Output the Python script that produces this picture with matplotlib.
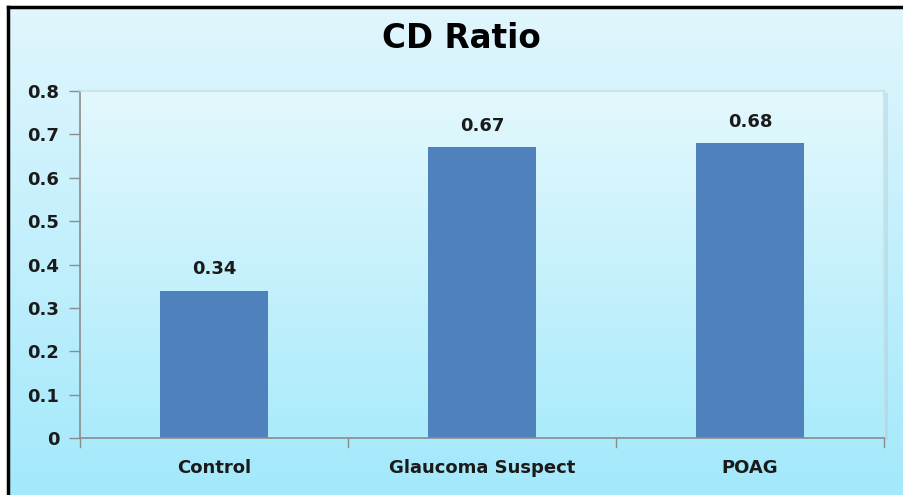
import numpy as np
import matplotlib
matplotlib.use("Agg")
import matplotlib.pyplot as plt
from matplotlib.colors import LinearSegmentedColormap
from matplotlib.patches import Rectangle
from matplotlib.lines import Line2D

plt.rcParams['font.family'] = ['DejaVu Sans']

categories = ["Control", "Glaucoma Suspect", "POAG"]
values = [0.34, 0.67, 0.68]
yticks = [0, 0.1, 0.2, 0.3, 0.4, 0.5, 0.6, 0.7, 0.8]
title = "CD Ratio"

W, H = 904, 495
fig = plt.figure(figsize=(W / 100, H / 100), dpi=100)
fig.patch.set_facecolor("white")

# figure background gradient (chart area inside the black frame)
bg = fig.add_axes([9 / W, 0, 1 - 9 / W, 1 - 7 / H], zorder=-10)
bg_cmap = LinearSegmentedColormap.from_list("bg", ["#e1f6fd", "#a3e9fb"])
bg.imshow(np.linspace(0, 1, 256).reshape(-1, 1), aspect="auto", cmap=bg_cmap,
          extent=[0, 1, 0, 1], origin="upper")
bg.set_axis_off()

# black frame on top and left
fig.add_artist(Line2D([8 / W, 1], [1 - 6.5 / H, 1 - 6.5 / H], color="black", lw=2.5,
                      transform=fig.transFigure))
fig.add_artist(Line2D([8 / W, 8 / W], [0, 1 - 6.5 / H], color="black", lw=2.5,
                      transform=fig.transFigure))

left, right, top, bottom = 80, 884, 91, 438
ax = fig.add_axes([left / W, 1 - bottom / H, (right - left) / W, (bottom - top) / H])

# plot area gradient
pa_cmap = LinearSegmentedColormap.from_list("pa", ["#e3f8fd", "#abebfb"])
ax.imshow(np.linspace(0, 1, 256).reshape(-1, 1), aspect="auto", cmap=pa_cmap,
          extent=[-0.5, 2.5, 0, 0.8], origin="upper", zorder=0)

# soft shadow along the right edge of the plot area
fig.add_artist(Rectangle(((right + 1) / W, 1 - (bottom + 2) / H), 3 / W, (bottom - top) / H,
                         transform=fig.transFigure, facecolor="#9fc9d8", alpha=0.35,
                         edgecolor="none", zorder=-5))

x = np.arange(len(categories))
ax.bar(x, values, width=0.4, color="#4f81bd", zorder=2)

label_font = dict(fontsize=13, fontweight="bold", color="#1a1a1a")
for xi, v in zip(x, values):
    ax.text(xi, v + 0.028, f"{v:.2f}", ha="center", va="bottom", **label_font)

ax.set_xlim(-0.5, 2.5)
ax.set_ylim(0, 0.8)
ax.set_yticks(yticks)
ax.set_yticklabels([f"{t:g}" for t in yticks], **label_font)
ax.set_xticks(x)
ax.set_xticklabels(categories, **label_font)
ax.tick_params(axis="x", length=0, pad=15)
ax.tick_params(axis="y", length=8, width=1, color="#8c8c8c", pad=7)
for b in [0.5, 1.5, 2.5, -0.5]:
    ax.plot([b, b], [0, -0.02], color="#8c8c8c", lw=1, clip_on=False, zorder=3)

for s in ["left", "bottom"]:
    ax.spines[s].set_color("#8c8c8c")
    ax.spines[s].set_linewidth(1.2)
for s in ["top", "right"]:
    ax.spines[s].set_color("#c9dfe8")
    ax.spines[s].set_linewidth(1.2)

fig.text(461 / W, 1 - 38 / H, title, ha="center", va="center", fontsize=23.5,
         fontweight="bold", color="black")

fig.savefig("out.png", dpi=100)
